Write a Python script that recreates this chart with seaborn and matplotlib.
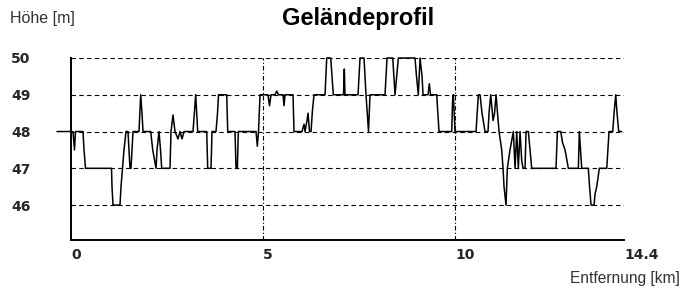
import matplotlib
matplotlib.use("Agg")
import matplotlib.pyplot as plt
import seaborn as sns
import pandas as pd

# Distance along the route [km]
entfernung_km = [
    -0.365, 0.0, 0.052, 0.091, 0.117, 0.3125, 0.339, 0.378, 1.055, 1.068, 1.094,
    1.276, 1.302, 1.341, 1.380, 1.432, 1.484, 1.510, 1.536, 1.5625, 1.589, 1.615,
    1.771, 1.815, 1.849, 1.875, 2.076, 2.128, 2.214, 2.240, 2.292, 2.331, 2.362,
    2.578, 2.604, 2.656, 2.708, 2.786, 2.839, 2.891, 2.943, 3.177, 3.247, 3.299,
    3.534, 3.560, 3.646, 3.672, 3.776, 3.815, 3.841, 4.055, 4.081, 4.271, 4.297,
    4.331, 4.357, 4.818, 4.852, 4.883, 4.922, 5.130, 5.169, 5.208, 5.313, 5.357,
    5.404, 5.521, 5.547, 5.573, 5.781, 5.807, 6.016, 6.068, 6.094, 6.146, 6.172,
    6.211, 6.250, 6.289, 6.328, 6.615, 6.659, 6.763, 6.831, 7.096, 7.117, 7.135,
    7.474, 7.526, 7.630, 7.682, 7.747, 7.786, 8.177, 8.229, 8.378, 8.438, 8.524,
    8.958, 8.997, 9.044, 9.089, 9.141, 9.167, 9.297, 9.331, 9.362, 9.523, 9.552,
    9.583, 9.914, 9.935, 9.956, 9.979, 10.000, 10.547, 10.607, 10.651, 10.703,
    10.781, 10.859, 10.885, 10.930, 10.990, 11.029, 11.068, 11.107, 11.146,
    11.216, 11.250, 11.276, 11.328, 11.362, 11.432, 11.518, 11.563, 11.607,
    11.648, 11.693, 11.737, 11.771, 11.823, 11.849, 11.909, 11.953, 11.997,
    12.630, 12.664, 12.753, 12.799, 12.865, 12.951, 13.211, 13.237, 13.268,
    13.299, 13.471, 13.503, 13.542, 13.620, 13.646, 13.690, 13.758, 13.951,
    14.010, 14.107, 14.141, 14.185, 14.219, 14.263, 14.341,
]

# Elevation [m]
hoehe_m = [
    48, 48, 48, 47.5, 48, 48, 47.5, 47, 47, 46.5, 46,
    46, 46.5, 47, 47.5, 48, 48, 47.5, 47, 47, 47.5, 48,
    48, 49, 48.5, 48, 48, 47.5, 47, 47.5, 48, 47.5, 47,
    47, 48, 48.45, 48, 47.8, 48, 47.8, 48, 48, 49, 48,
    48, 47, 47, 48, 48, 48.5, 49, 49, 48, 48, 47,
    47, 48, 48, 47.6, 48, 49, 49, 48.7, 49, 49, 49.1,
    49, 49, 48.7, 49, 49, 48, 48, 48.2, 48, 48.3, 48.5,
    48, 48, 48.6, 49, 49, 50, 50, 49, 49, 49.7, 49,
    49, 50, 50, 49, 48, 49, 49, 50, 50, 49, 50,
    50, 49.5, 49, 50, 49.5, 49, 49, 49.3, 49, 49, 48.5,
    48, 48, 48.8, 49, 48.5, 48, 48, 49, 49, 48.5,
    48, 48, 48.5, 49, 48.3, 48.5, 49, 48.5, 48,
    47.5, 47, 46.5, 46, 47, 47.5, 48, 47, 48,
    47, 48, 47.2, 47, 47, 48, 48, 47.5, 47,
    47, 48, 48, 47.7, 47.5, 47, 47, 48, 47.5,
    47, 47, 46.5, 46, 46, 46.3, 46.5, 47, 47,
    48, 48, 48.5, 49, 48.5, 48, 48,
]

y_ticks = [46, 47, 48, 49, 50]
y_tick_labels = ["46", "47", "48", "49", "50"]
x_ticks = [0, 5, 10, 14.4]
x_tick_labels = ["0", "5", "10", "14.4"]
x_grid = [5, 10]

df = pd.DataFrame({"Entfernung": entfernung_km, "Hoehe": hoehe_m})

sns.set_style("white")
plt.rcParams["font.family"] = ["Liberation Sans", "DejaVu Sans"]

W, H = 682, 288
fig = plt.figure(figsize=(W / 100, H / 100), dpi=100)
ax = fig.add_axes([71 / W, 1 - 240 / H, (624 - 71) / W, (240 - 58) / H])

# grid lines
for yv in y_ticks:
    ax.axhline(yv, color="black", lw=0.8, ls=(0, (4, 3)), zorder=1)
for xv in x_grid:
    ax.axvline(xv, color="black", lw=0.8, ls=(0, (4, 2, 1, 2)), zorder=1)

sns.lineplot(data=df, x="Entfernung", y="Hoehe", ax=ax, color="black",
             lw=1.1, estimator=None, sort=False, clip_on=False, zorder=3)

ax.set_xlim(0, 14.4)
ax.set_ylim(45.05, 50)

for s in ["top", "right"]:
    ax.spines[s].set_visible(False)
for s in ["left", "bottom"]:
    ax.spines[s].set_color("black")
    ax.spines[s].set_linewidth(1.4)

ax.set_yticks(y_ticks)
ax.set_yticklabels(y_tick_labels, fontweight="bold", family="DejaVu Sans", fontsize=10)
ax.set_xticks(x_ticks)
ax.set_xticklabels(x_tick_labels, fontweight="bold", family="DejaVu Sans", fontsize=10)
for lab in ax.get_xticklabels():
    lab.set_ha("left")
ax.tick_params(axis="y", length=0, pad=29)
ax.tick_params(axis="x", length=0, pad=6)
ax.set_xlabel("")
ax.set_ylabel("")

fig.text(10 / W, 1 - 18 / H, "Höhe [m]", ha="left", va="center", fontsize=11.5, color="#333333")
fig.text(358 / W, 1 - 18 / H, "Geländeprofil", ha="center", va="center", fontsize=17,
         fontweight="bold", color="black")
fig.text(680 / W, 1 - 278 / H, "Entfernung [km]", ha="right", va="center", fontsize=11.2,
         color="#333333")

fig.savefig("out.png", dpi=100)
